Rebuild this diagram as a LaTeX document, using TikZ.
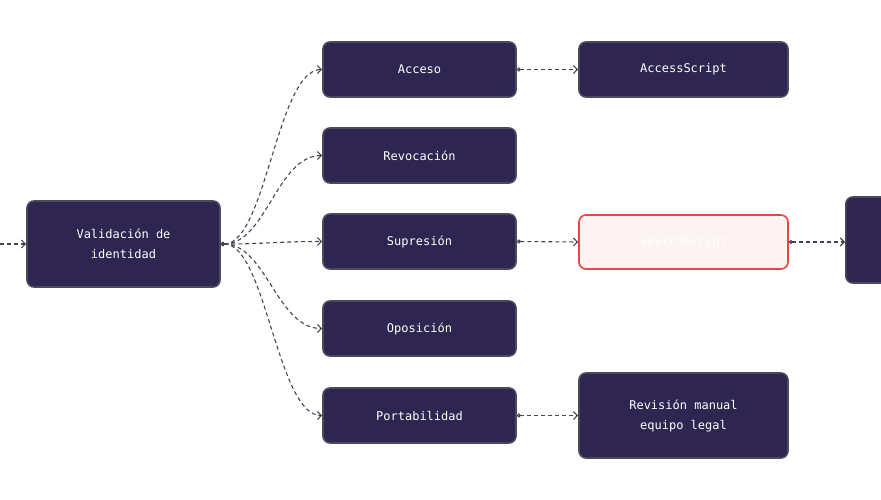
\documentclass[tikz,border=0pt]{standalone}
\usepackage{fontspec}
\setmonofont{DejaVu Sans Mono}
\usetikzlibrary{arrows.meta,positioning}
\definecolor{boxfill}{HTML}{2E2551}
\definecolor{boxline}{HTML}{4A4A5A}
\definecolor{linkc}{HTML}{444455}
\definecolor{errline}{HTML}{E84545}
\definecolor{errfill}{HTML}{FDF3F3}
\tikzset{
  box/.style={draw=boxline, line width=1.6pt, fill=boxfill, rounded corners=7pt,
    text=white, font=\ttfamily\fontsize{12}{20}\selectfont, align=center,
    minimum height=55pt, inner sep=0pt},
  errbox/.style={box, draw=errline, fill=errfill},
  link/.style={draw=linkc, line width=1.1pt, dash pattern=on 4pt off 3pt,
    {Circle[open,length=4pt,line width=1.1pt]}-{Straight Barb[length=4pt,width=8pt]}},
  inlink/.style={draw=linkc, line width=1.1pt, dash pattern=on 4pt off 3pt,
    -{Straight Barb[length=4pt,width=8pt]}}
}
\begin{document}
\begin{tikzpicture}[x=1pt,y=-1pt]
\useasboundingbox (0,0) rectangle (881,500);

% nodos
\node[box, minimum width=193pt, minimum height=86pt] (valid) at (123.5,244) {Validación de\\identidad};
\node[box, minimum width=193pt] (acceso) at (419.5,69.5) {Acceso};
\node[box, minimum width=193pt] (revoc) at (419.5,155.5) {Revocación};
\node[box, minimum width=193pt] (supr) at (419.5,241.5) {Supresión};
\node[box, minimum width=193pt] (opos) at (419.5,328.5) {Oposición};
\node[box, minimum width=193pt] (porta) at (419.5,415.5) {Portabilidad};
\node[box, minimum width=209pt] (access) at (683.5,69.5) {AccessScript};
\node[errbox, minimum width=209pt, minimum height=54pt] (search) at (683.5,242) {SearchScript};
\node[box, minimum width=209pt, minimum height=85pt] (revis) at (683.5,415.5) {Revisión manual\\equipo legal};
\node[box, minimum width=120pt, minimum height=86pt, anchor=west] (next) at (845,240) {};
\coordinate (ini) at (0,244);

% conexiones
\draw[inlink] (ini) -- (valid.west);
\foreach \t in {acceso,revoc,supr,opos,porta}
  \draw[link] (valid.east) .. controls +(45pt,0) and +(-45pt,0) .. (\t.west);
\draw[link] (acceso.east) -- (access.west);
\draw[link] (supr.east) -- (search.west);
\draw[link] (porta.east) -- (porta.east -| revis.west);
\draw[link] (search.east) -- (search.east -| next.west);
\end{tikzpicture}
\end{document}
